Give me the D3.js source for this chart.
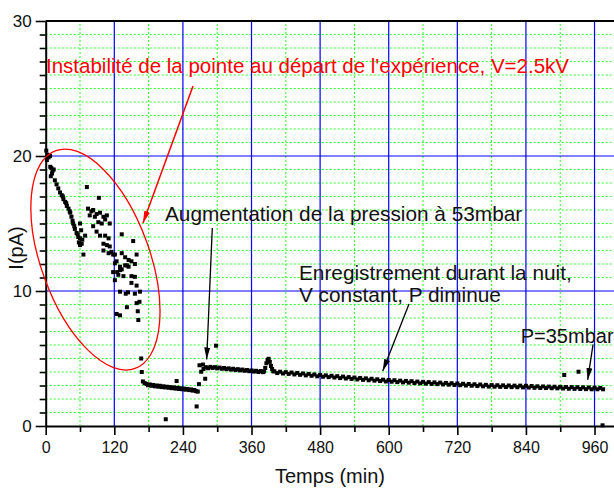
<!DOCTYPE html>
<html><head><meta charset="utf-8">
<script src="https://cdn.jsdelivr.net/npm/d3@7"></script>
<style>
body{margin:0;background:#fff}
svg{display:block}
text{font-family:"Liberation Sans",Arial,sans-serif}
</style>
</head><body><svg id="c" width="614" height="488"></svg>
<script>
// ---- tick values ----
const xMajorTicks = [0,120,240,360,480,600,720,840,960];
const xMinorTicks = [60,180,300,420,540,660,780,900];
const yMajorTicks = [0,10,20,30];
const yMinorTicks = [1,2,3,4,5,6,7,8,9,11,12,13,14,15,16,17,18,19,21,22,23,24,25,26,27,28,29];

// ---- scattered early points and outliers (Temps min, I pA) ----
const scatterTime = [1,3,5,7.5,2,8,10,12,14,11,9,
 16,19,22,25,28,31,34,37,40,43,45,47,48,51,54,57,60,63,66,
 30,36,42,50,56,60,62,64,60,69,58,
 72,93,
 74,77,80,83,86,89,92,95,98,101,104,107,112,83,89,95,104,110,133,153,101,107,112,101,110,115,118,121,133,139,145,159,124,130,142,150,156,125,133,121,139,145,130,118,127,121,136,150,156,150,159,130,140,144,156,165,159,164,142,161,124,130,162,167,168,
 210,229,264,268,269,275,279,298,907,932,974];
const scatterCurrent = [20.4,20.1,19.9,20.0,19.7,19.2,19.1,18.9,19.0,18.7,18.5,
 18.2,17.9,17.6,17.3,17.1,16.8,16.6,16.3,16.1,15.8,15.5,15.2,15.0,14.6,14.3,14.0,13.9,13.5,12.7,
 17.0,16.5,15.9,14.8,14.2,15.0,14.5,13.8,13.4,14.1,13.6,
 17.7,16.9,
 16.1,15.6,15.9,16.0,15.5,15.7,15.1,15.8,15.0,15.5,15.3,15.6,15.0,14.8,14.4,14.1,14.1,13.9,14.2,13.7,13.5,13.4,13.3,13.0,12.8,12.9,12.7,12.7,12.8,12.5,12.3,12.7,12.2,11.8,11.9,12.2,12.0,11.4,11.6,12.05,11.9,11.8,11.55,11.4,11.2,10.8,11.1,11.1,11.05,10.6,10.4,9.95,9.8,9.9,9.8,9.95,9.1,9.2,8.8,8.5,8.3,8.2,7.85,5.0,4.0,
 0.5,3.33,1.45,3.1,4.5,4.55,3.5,5.95,3.78,4.02,0.05];

// ---- low-current band after the instability ----
const lowTime = [170,173,176,179,182,185,188,191,194,197,200,203,206,209,212,215,218,221,224,227,230,233,236,239,242,245,248,251,254,257,260,263,266];
const lowCurrent = [3.30,3.18,3.12,3.02,3.08,2.98,3.04,2.94,3.00,2.91,2.98,2.88,2.94,2.86,2.91,2.83,2.88,2.80,2.86,2.77,2.83,2.74,2.80,2.72,2.77,2.69,2.74,2.66,2.71,2.62,2.67,2.58,2.55];

// ---- band after pressure increase ----
const bandATime = [272,276,280,284,288,292,296,300,304,308,312,316,320,324,328,332,336,340,344,348,352,356,360,364,368,372,376,380];
const bandACurrent = [4.02,4.22,4.36,4.28,4.38,4.30,4.36,4.27,4.33,4.24,4.30,4.21,4.27,4.18,4.24,4.15,4.21,4.12,4.18,4.09,4.15,4.06,4.12,4.03,4.09,4.00,4.07,3.99];
const spikeTime = [382,384,386,388,390,392,394,396,398];
const spikeCurrent = [4.05,4.30,4.65,4.90,4.98,4.75,4.45,4.22,4.05];
const bandBTime = [400,405,410,415,420,425,430,435,440,445,450,455,460,465,470,475,480,485,490,495,500,505,510,515,520,525,530,535,540,545,550,555,560,565,570,575,580,585,590,595,600,605,610,615,620,625,630,635,640,645,650,655,660,665,670,675,680,685,690,695,700,705,710,715,720,725,730,735,740,745,750,755,760,765,770,775,780,785,790,795,800,805,810,815,820,825,830,835,840,845,850,855,860,865,870,875,880,885,890,895,900,905,910,915,920,925,930,935,940,945,950,955,960,965,970,975];
const bandBCurrent = [4.05,3.92,4.02,3.89,3.99,3.86,3.96,3.82,3.93,3.79,3.89,3.75,3.86,3.72,3.82,3.68,3.78,3.65,3.75,3.62,3.72,3.59,3.69,3.55,3.66,3.52,3.62,3.49,3.59,3.45,3.56,3.42,3.53,3.39,3.50,3.36,3.46,3.33,3.43,3.30,3.41,3.28,3.39,3.25,3.36,3.23,3.34,3.21,3.32,3.18,3.29,3.16,3.27,3.14,3.25,3.12,3.23,3.10,3.21,3.08,3.19,3.06,3.17,3.04,3.15,3.02,3.13,3.00,3.11,2.98,3.09,2.96,3.07,2.94,3.05,2.92,3.03,2.91,3.02,2.90,3.01,2.89,3.00,2.88,2.99,2.87,2.99,2.86,2.98,2.85,2.96,2.83,2.94,2.82,2.93,2.81,2.92,2.80,2.91,2.79,2.90,2.78,2.89,2.76,2.88,2.75,2.87,2.74,2.86,2.73,2.85,2.72,2.84,2.72,2.82,2.72];

// ---- annotations (data units) ----
const redLabel = {t:0.5, v:26.15, text:"Instabilité de la pointe au départ de l'expérience, V=2.5kV"};
const blackLabels = [
  {t:208.7, v:15.19, text:"Augmentation de la pression à 53mbar", size:20.8},
  {t:443, v:10.81, text:"Enregistrement durant la nuit,", size:20.8},
  {t:443, v:9.19, text:"V constant, P diminue", size:20.8},
  {t:830.9, v:6.15, text:"P=35mbar", size:20}
];
const redArrow = {t1:257.7, v1:25.19, t2:170.2, v2:15.04};
const blackArrows = [
  {t1:291.4, v1:14.67, t2:281.6, v2:4.93},
  {t1:635.5, v1:9.04, t2:589.5, v2:4.07},
  {t1:957.4, v1:6.04, t2:948, v2:3.41}
];
const ellipseNote = {t:87, v:12.33};

// ---- drawing ----
const svg = d3.select("#c");
const x = d3.scaleLinear().domain([0,1000]).range([45.7,617.4]);
const y = d3.scaleLinear().domain([0,30]).range([426,21]);

const grid = svg.append("g");
grid.selectAll("line.gv").data(xMinorTicks).join("line")
  .attr("x1",d=>x(d)).attr("x2",d=>x(d)).attr("y1",y(0)).attr("y2",y(30))
  .attr("stroke","#2bff2b").attr("stroke-width",1).attr("stroke-dasharray","2,2");
grid.selectAll("line.gh").data(yMinorTicks).join("line")
  .attr("x1",x(0)).attr("x2",x(1000)).attr("y1",d=>y(d)).attr("y2",d=>y(d))
  .attr("stroke","#2bff2b").attr("stroke-width",1).attr("stroke-dasharray","2,2");
grid.selectAll("line.bv").data(xMajorTicks.filter(d=>d>0)).join("line")
  .attr("x1",d=>x(d)).attr("x2",d=>x(d)).attr("y1",y(0)).attr("y2",y(30))
  .attr("stroke","#0000ff").attr("stroke-width",1.2);
grid.append("g").selectAll("line").data([10,20]).join("line")
  .attr("x1",x(0)).attr("x2",x(1000)).attr("y1",d=>y(d)).attr("y2",d=>y(d))
  .attr("stroke","#0000ff").attr("stroke-width",1.2);

// data points
function pts(ts, vs){ return ts.map((t,i)=>({t, v:vs[i]})); }
const allPts = [].concat(pts(scatterTime,scatterCurrent), pts(lowTime,lowCurrent),
  pts(bandATime,bandACurrent), pts(spikeTime,spikeCurrent), pts(bandBTime,bandBCurrent));
const s = 4;
svg.append("g").selectAll("rect").data(allPts).join("rect")
  .attr("x",d=>x(d.t)-s/2).attr("y",d=>y(d.v)-s/2).attr("width",s).attr("height",s)
  .attr("fill","#000");

// axes
function styleAxis(g){
  g.select(".domain").attr("stroke","#000").attr("stroke-width",2);
  g.selectAll(".tick line").attr("stroke","#000").attr("stroke-width",1.6);
  g.selectAll(".tick text").attr("fill","#111").style("font-family",'"Liberation Sans",Arial,sans-serif');
}
const gxMinor = svg.append("g").attr("transform",`translate(0,${y(0)})`)
  .call(d3.axisBottom(x).tickValues(xMinorTicks).tickSize(6).tickFormat(""));
gxMinor.select(".domain").remove();
gxMinor.selectAll(".tick line").attr("stroke","#000").attr("stroke-width",1.6);
const gx = svg.append("g").attr("transform",`translate(0,${y(0)})`)
  .call(d3.axisBottom(x).tickValues(xMajorTicks).tickSizeInner(9).tickSizeOuter(0).tickPadding(7));
styleAxis(gx);
gx.selectAll(".tick text").style("font-size","16px");

const gyMinor = svg.append("g").attr("transform",`translate(${x(0)},0)`)
  .call(d3.axisLeft(y).tickValues(yMinorTicks).tickSize(6).tickFormat(""));
gyMinor.select(".domain").remove();
gyMinor.selectAll(".tick line").attr("stroke","#000").attr("stroke-width",1.6);
const gy = svg.append("g").attr("transform",`translate(${x(0)},0)`)
  .call(d3.axisLeft(y).tickValues(yMajorTicks).tickSizeInner(10).tickSizeOuter(0).tickPadding(4));
styleAxis(gy);
gy.selectAll(".tick text").style("font-size","17px");

// top frame line
svg.append("line").attr("x1",x(0)).attr("x2",x(1000)).attr("y1",y(30)).attr("y2",y(30))
  .attr("stroke","#000").attr("stroke-width",2);

// axis titles
svg.append("text").attr("x",330).attr("y",483).attr("text-anchor","middle")
  .style("font-size","20px").attr("fill","#111").text("Temps (min)");
svg.append("text").attr("transform","translate(23,248) rotate(-90)").attr("text-anchor","middle")
  .style("font-size","20px").attr("fill","#111").text("I(pA)");

// annotations
const defs = svg.append("defs");
function marker(id,color){
  defs.append("marker").attr("id",id).attr("viewBox","0 0 12 6").attr("refX",12).attr("refY",3)
    .attr("markerWidth",12).attr("markerHeight",6).attr("markerUnits","userSpaceOnUse").attr("orient","auto")
    .append("path").attr("d","M0,0 L12,3 L0,6 Z").attr("fill",color);
}
marker("ah-red","#ff0000");
marker("ah-black","#000");

svg.append("ellipse").attr("cx",0).attr("cy",0).attr("rx",54.2).attr("ry",115.9)
  .attr("transform",`translate(${x(ellipseNote.t)},${y(ellipseNote.v)}) rotate(-20)`)
  .attr("fill","none").attr("stroke","#ff0000").attr("stroke-width",1.3);

svg.append("line").attr("x1",x(redArrow.t1)).attr("y1",y(redArrow.v1))
  .attr("x2",x(redArrow.t2)).attr("y2",y(redArrow.v2))
  .attr("stroke","#ff0000").attr("stroke-width",1.5).attr("marker-end","url(#ah-red)");
svg.append("g").selectAll("line").data(blackArrows).join("line")
  .attr("x1",d=>x(d.t1)).attr("y1",d=>y(d.v1)).attr("x2",d=>x(d.t2)).attr("y2",d=>y(d.v2))
  .attr("stroke","#000").attr("stroke-width",1.3).attr("marker-end","url(#ah-black)");

svg.append("text").attr("x",x(redLabel.t)).attr("y",y(redLabel.v))
  .style("font-size","20.5px").attr("fill","#ff0000").text(redLabel.text);
svg.append("g").selectAll("text").data(blackLabels).join("text")
  .attr("x",d=>x(d.t)).attr("y",d=>y(d.v))
  .style("font-size",d=>d.size+"px").attr("fill","#111").text(d=>d.text);
</script></body></html>
